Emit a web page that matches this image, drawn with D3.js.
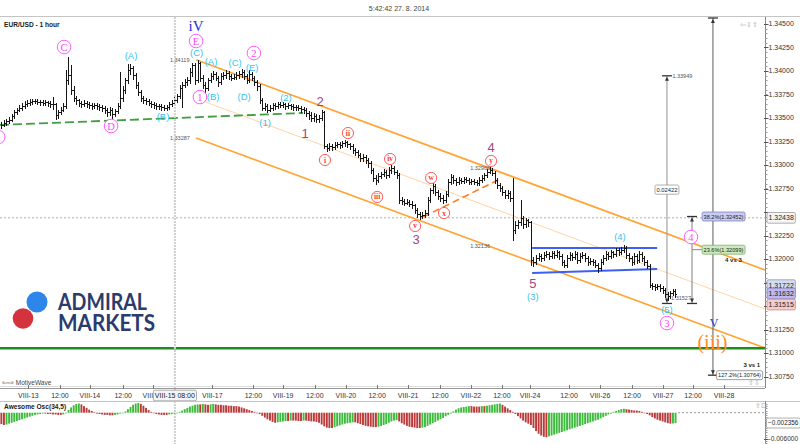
<!DOCTYPE html>
<html><head><meta charset="utf-8">
<script src="https://cdn.jsdelivr.net/npm/d3@7/dist/d3.min.js"></script>
<style>
html,body{margin:0;padding:0;background:#fff;}
svg{display:block;font-family:"Liberation Sans",Arial,sans-serif;}
</style></head><body>
<svg id="chart" width="800" height="444"></svg>
<script>
// ---------------- DATA ----------------
const titleText = "5:42:42 27. 8. 2014";
const symbolText = "EUR/USD - 1 hour";

const close = [1.3343,1.3345,1.3347,1.3348,1.3352,1.3356,1.3359,1.3361,1.3363,1.3365,
1.3366,1.3367,1.3368,1.3368,1.3367,1.3367,1.3366,1.3367,1.3366,1.3365,
1.3365,1.3353,1.3356,1.3359,1.3363,1.3390,1.3396,1.3380,1.3371,1.3369,
1.3366,1.3365,1.3366,1.3365,1.3364,1.3363,1.3364,1.3363,1.3362,1.3361,
1.3359,1.3356,1.3359,1.3354,1.3357,1.3363,1.3371,1.3380,1.3390,1.3401,
1.3403,1.3396,1.3385,1.3378,1.3371,1.3369,1.3368,1.3366,1.3365,1.3364,
1.3363,1.3363,1.3362,1.3361,1.3362,1.3365,1.3366,1.3369,1.3373,1.3382,
1.3385,1.3388,1.3390,1.3399,1.3406,1.3390,1.3408,1.3393,1.3385,1.3382,
1.3390,1.3395,1.3397,1.3393,1.3388,1.3395,1.3396,1.3398,1.3395,1.3393,
1.3394,1.3396,1.3397,1.3399,1.3395,1.3390,1.3397,1.3393,1.3388,1.3384,
1.3369,1.3361,1.3363,1.3359,1.3361,1.3364,1.3363,1.3365,1.3364,1.3365,
1.3363,1.3364,1.3363,1.3362,1.3362,1.3361,1.3360,1.3359,1.3355,1.3353,
1.3350,1.3352,1.3349,1.3350,1.3356,1.3320,1.3318,1.3320,1.3319,1.3321,
1.3322,1.3321,1.3323,1.3324,1.3322,1.3320,1.3316,1.3314,1.3311,1.3307,
1.3309,1.3305,1.3302,1.3295,1.3286,1.3284,1.3288,1.3290,1.3293,1.3289,
1.3295,1.3297,1.3293,1.3289,1.3263,1.3262,1.3260,1.3261,1.3259,1.3257,
1.3252,1.3248,1.3246,1.3247,1.3249,1.3263,1.3273,1.3278,1.3271,1.3267,
1.3265,1.3263,1.3269,1.3282,1.3287,1.3284,1.3282,1.3284,1.3283,1.3285,
1.3284,1.3282,1.3283,1.3282,1.3281,1.3284,1.3286,1.3289,1.3293,1.3295,
1.3292,1.3284,1.3279,1.3276,1.3271,1.3268,1.3270,1.3265,1.3231,1.3236,
1.3239,1.3244,1.3237,1.3241,1.3239,1.3199,1.3197,1.3201,1.3203,1.3201,
1.3204,1.3205,1.3203,1.3206,1.3204,1.3207,1.3203,1.3197,1.3194,1.3201,
1.3204,1.3202,1.3205,1.3199,1.3203,1.3204,1.3201,1.3197,1.3198,1.3197,
1.3194,1.3190,1.3197,1.3201,1.3205,1.3203,1.3207,1.3205,1.3210,1.3207,
1.3210,1.3212,1.3204,1.3201,1.3197,1.3203,1.3199,1.3205,1.3201,1.3197,
1.3193,1.3172,1.3171,1.3170,1.3171,1.3169,1.3167,1.3163,1.3161,1.3164,
1.3166,1.3163];

const high = [1.3346,1.3348,1.3349,1.3351,1.3354,1.3358,1.3361,1.3364,1.3366,1.3368,
1.3369,1.3370,1.3370,1.3370,1.3370,1.3369,1.3369,1.3369,1.3368,1.3368,
1.3372,1.3366,1.3358,1.3362,1.3366,1.3401,1.3415,1.3406,1.3384,1.3373,
1.3370,1.3368,1.3369,1.3368,1.3367,1.3366,1.3366,1.3366,1.3365,1.3364,
1.3363,1.3361,1.3362,1.3361,1.3360,1.3366,1.3399,1.3384,1.3393,1.3407,
1.3407,1.3405,1.3398,1.3388,1.3380,1.3373,1.3371,1.3370,1.3368,1.3367,
1.3366,1.3365,1.3365,1.3364,1.3364,1.3367,1.3369,1.3372,1.3376,1.3385,
1.3388,1.3392,1.3394,1.3403,1.3409,1.3408,1.3412,1.3410,1.3396,1.3388,
1.3393,1.3398,1.3400,1.3399,1.3395,1.3398,1.3399,1.3401,1.3400,1.3397,
1.3397,1.3399,1.3400,1.3402,1.3401,1.3397,1.3401,1.3399,1.3395,1.3390,
1.3386,1.3371,1.3366,1.3365,1.3364,1.3366,1.3366,1.3367,1.3367,1.3367,
1.3366,1.3366,1.3365,1.3365,1.3364,1.3364,1.3363,1.3362,1.3361,1.3357,
1.3356,1.3355,1.3354,1.3353,1.3359,1.3357,1.3322,1.3323,1.3322,1.3324,
1.3325,1.3324,1.3326,1.3327,1.3326,1.3323,1.3322,1.3318,1.3316,1.3313,
1.3312,1.3311,1.3307,1.3304,1.3297,1.3289,1.3291,1.3293,1.3296,1.3295,
1.3298,1.3300,1.3299,1.3295,1.3291,1.3266,1.3264,1.3264,1.3263,1.3262,
1.3259,1.3254,1.3250,1.3250,1.3252,1.3266,1.3276,1.3281,1.3280,1.3273,
1.3270,1.3268,1.3272,1.3285,1.3290,1.3289,1.3286,1.3287,1.3286,1.3287,
1.3287,1.3286,1.3285,1.3285,1.3284,1.3287,1.3289,1.3292,1.3296,1.3298,
1.3297,1.3294,1.3286,1.3281,1.3278,1.3273,1.3273,1.3272,1.3286,1.3240,
1.3242,1.3263,1.3246,1.3244,1.3243,1.3240,1.3202,1.3204,1.3206,1.3205,
1.3207,1.3208,1.3207,1.3209,1.3208,1.3210,1.3209,1.3205,1.3199,1.3204,
1.3207,1.3206,1.3208,1.3207,1.3206,1.3207,1.3206,1.3203,1.3201,1.3200,
1.3199,1.3196,1.3200,1.3204,1.3208,1.3207,1.3210,1.3209,1.3212,1.3212,
1.3213,1.3215,1.3214,1.3206,1.3203,1.3206,1.3205,1.3208,1.3207,1.3203,
1.3199,1.3195,1.3174,1.3173,1.3173,1.3173,1.3171,1.3169,1.3165,1.3166,
1.3168,1.3168];

const low = [1.3339,1.3341,1.3343,1.3345,1.3347,1.3350,1.3354,1.3357,1.3359,1.3361,
1.3363,1.3364,1.3365,1.3366,1.3365,1.3364,1.3364,1.3364,1.3363,1.3362,
1.3360,1.3349,1.3350,1.3354,1.3357,1.3361,1.3386,1.3376,1.3368,1.3365,
1.3363,1.3362,1.3363,1.3362,1.3361,1.3360,1.3361,1.3360,1.3359,1.3357,
1.3355,1.3352,1.3353,1.3350,1.3352,1.3355,1.3361,1.3368,1.3377,1.3387,
1.3397,1.3392,1.3382,1.3375,1.3368,1.3366,1.3365,1.3364,1.3362,1.3361,
1.3360,1.3360,1.3359,1.3358,1.3359,1.3360,1.3363,1.3364,1.3367,1.3371,
1.3362,1.3383,1.3385,1.3387,1.3395,1.3386,1.3388,1.3389,1.3382,1.3378,
1.3380,1.3388,1.3392,1.3390,1.3384,1.3386,1.3392,1.3393,1.3392,1.3390,
1.3391,1.3392,1.3393,1.3394,1.3392,1.3387,1.3388,1.3390,1.3385,1.3380,
1.3366,1.3358,1.3358,1.3356,1.3357,1.3359,1.3360,1.3361,1.3362,1.3362,
1.3360,1.3361,1.3360,1.3359,1.3359,1.3358,1.3356,1.3355,1.3352,1.3349,
1.3347,1.3347,1.3346,1.3346,1.3348,1.3318,1.3315,1.3316,1.3316,1.3317,
1.3319,1.3318,1.3319,1.3320,1.3319,1.3317,1.3313,1.3311,1.3308,1.3304,
1.3304,1.3302,1.3298,1.3292,1.3283,1.3280,1.3282,1.3286,1.3288,1.3286,
1.3287,1.3292,1.3290,1.3286,1.3260,1.3259,1.3257,1.3258,1.3256,1.3254,
1.3249,1.3245,1.3243,1.3244,1.3245,1.3247,1.3261,1.3270,1.3268,1.3264,
1.3262,1.3260,1.3261,1.3267,1.3280,1.3281,1.3279,1.3280,1.3281,1.3281,
1.3282,1.3280,1.3280,1.3280,1.3279,1.3279,1.3282,1.3284,1.3287,1.3291,
1.3289,1.3281,1.3276,1.3272,1.3268,1.3265,1.3265,1.3262,1.3220,1.3228,
1.3233,1.3236,1.3233,1.3234,1.3235,1.3194,1.3193,1.3195,1.3199,1.3198,
1.3199,1.3202,1.3200,1.3201,1.3201,1.3202,1.3200,1.3194,1.3191,1.3192,
1.3199,1.3199,1.3200,1.3196,1.3197,1.3201,1.3198,1.3194,1.3195,1.3194,
1.3191,1.3186,1.3188,1.3195,1.3199,1.3200,1.3201,1.3202,1.3203,1.3204,
1.3205,1.3207,1.3201,1.3198,1.3194,1.3195,1.3196,1.3197,1.3198,1.3194,
1.3190,1.3170,1.3168,1.3167,1.3168,1.3166,1.3164,1.3160,1.3156,1.3159,
1.3162,1.3160];

const awesomeOsc = [-0.0026,-0.0028,-0.0027,-0.0025,-0.0023,-0.0021,-0.0019,-0.0017,-0.0015,-0.0013,
-0.0011,-0.0009,-0.0007,-0.0005,-0.0004,-0.0003,-0.0002,-0.0002,-0.0003,-0.0003,
-0.0004,-0.0004,-0.0005,-0.0005,-0.0004,0.0000,0.0006,0.0012,0.0017,0.0020,
0.0021,0.0019,0.0015,0.0011,0.0007,0.0004,0.0001,-0.0002,-0.0003,-0.0004,
-0.0005,-0.0005,-0.0006,-0.0006,-0.0005,-0.0004,-0.0002,0.0000,0.0003,0.0008,
0.0013,0.0018,0.0021,0.0022,0.0020,0.0016,0.0011,0.0006,0.0002,-0.0001,
-0.0003,-0.0004,-0.0005,-0.0005,-0.0005,-0.0004,-0.0003,-0.0002,0.0000,0.0002,
0.0005,0.0008,0.0011,0.0014,0.0016,0.0018,0.0019,0.0019,0.0020,0.0019,
0.0018,0.0019,0.0020,0.0019,0.0018,0.0018,0.0017,0.0017,0.0016,0.0016,
0.0015,0.0015,0.0014,0.0012,0.0010,0.0008,0.0006,0.0004,0.0002,0.0000,
-0.0003,-0.0007,-0.0011,-0.0015,-0.0018,-0.0021,-0.0023,-0.0022,-0.0021,-0.0020,
-0.0019,-0.0019,-0.0018,-0.0018,-0.0018,-0.0019,-0.0019,-0.0018,-0.0018,-0.0019,
-0.0020,-0.0020,-0.0021,-0.0023,-0.0027,-0.0031,-0.0034,-0.0035,-0.0035,-0.0033,
-0.0031,-0.0029,-0.0027,-0.0025,-0.0024,-0.0023,-0.0022,-0.0022,-0.0024,-0.0026,
-0.0028,-0.0030,-0.0031,-0.0032,-0.0033,-0.0033,-0.0032,-0.0030,-0.0028,-0.0026,
-0.0023,-0.0020,-0.0018,-0.0017,-0.0020,-0.0024,-0.0027,-0.0030,-0.0032,-0.0033,
-0.0034,-0.0035,-0.0035,-0.0034,-0.0033,-0.0030,-0.0027,-0.0024,-0.0021,-0.0018,
-0.0015,-0.0012,-0.0008,-0.0005,-0.0002,0.0003,0.0007,0.0010,0.0012,0.0013,
0.0014,0.0015,0.0015,0.0014,0.0014,0.0014,0.0015,0.0015,0.0016,0.0017,
0.0018,0.0019,0.0020,0.0021,0.0018,0.0014,0.0010,0.0006,0.0002,-0.0003,
-0.0008,-0.0013,-0.0018,-0.0022,-0.0025,-0.0028,-0.0035,-0.0042,-0.0048,-0.0052,
-0.0055,-0.0056,-0.0054,-0.0052,-0.0050,-0.0048,-0.0046,-0.0044,-0.0042,-0.0040,
-0.0038,-0.0036,-0.0034,-0.0032,-0.0030,-0.0028,-0.0026,-0.0024,-0.0022,-0.0020,
-0.0018,-0.0016,-0.0013,-0.0010,-0.0007,-0.0004,-0.0002,0.0002,0.0004,0.0006,
0.0008,0.0009,0.0008,0.0007,0.0006,0.0005,0.0005,0.0004,0.0002,0.0000,
-0.0003,-0.0006,-0.0010,-0.0013,-0.0016,-0.0018,-0.0020,-0.0022,-0.0024,-0.0025,
-0.00245,-0.002356];

// time axis (bar index positions) and labels
const timeTickBars = [10.5,22.7,34.3,47.2,58.7,81.7,97.6,109.1,121.4,133.4,145.5,157.5,169.8,181.8,193.8,204.7,219.8,231.8,244.2,256.2,267.8,279.8];
const timeTickLabels = ["VIII-13","12:00","VIII-14","12:00","VIII-15","VIII-17","12:00","VIII-19","12:00","VIII-20","12:00","VIII-21","12:00","VIII-22","12:00","VIII-24","12:00","VIII-26","12:00","VIII-27","12:00","VIII-28"];
const crossBar = 67.2, crossLabel = "VIII-15 08:00", crossPrice = 1.32438;

const priceTicks = [1.345,1.3425,1.34,1.3375,1.335,1.3325,1.33,1.3275,1.325,1.3225,1.32,1.3175,1.315,1.3125,1.31,1.3075];
const priceTickLabels = ["1.34500","1.34250","1.34000","1.33750","1.33500","1.33250","1.33000","1.32750","1.32500","1.32250","1.32000","1.31750","1.31500","1.31250","1.31000","1.30750"];

// right-axis marker boxes: [price, label, fill, stroke]
const axisMarkers = [[1.32438,"1.32438","#f6f6f6","#9a9a9a"],[1.31722,"1.31722","#d3dcef","#8c9bb8"],[1.31632,"1.31632","#bdb9ec","#8480c0"],[1.31515,"1.31515","#f4cdd0","#c98a90"]];

// trend lines: [bar1, price1, bar2, price2]
const channelUpper = [75.4,1.34119,295.7,1.31883];
const channelMid   = [78.9,1.33672,295.7,1.31468];
const channelLower = [75.4,1.33287,295.7,1.31053];
const greenDashed  = [-0.5,1.33426,116.8,1.33553];
const orangeDashed = [163.3,1.32447,192.3,1.32840];
const blueUpper    = [205.5,1.32117,253.9,1.32117];
const blueLower    = [205.5,1.31851,253.9,1.31894];
const supportLevel = 1.3105;

// measurement tools: [bar, fromPrice, toPrice]
const measures = [[257.7,1.33949,1.31527],[267.4,1.32452,1.31527],[275.5,1.34564,1.30764]];
const measureDiff = "0.02422";
const fibBoxes = [[271.3,1.32452,"38.2%(1.32452)","#c9cbf0","#7c80c4"],[271.3,1.32099,"23.6%(1.32099)","#cbeabd","#80b070"],[276.9,1.30764,"127.2%(1.30764)","#ffffff","#888888"]];
const smallPriceLabels = [["1.34119",65.3,1.34119],["1.33287",65.3,1.33287],["1.32966",181.5,1.32966],["1.32136",181.5,1.32136],["1.33949",259.8,1.33949],["1.31527",259.3,1.31580]];
const noteLabels = [["4 vs 3",280.2,1.31990],["3 vs 1",287.3,1.30870]];

// wave labels: [text, bar, price]
const cyanLabels = [["(A)",50.2,1.34160],["(C)",75.6,1.34195],["(A)",81.2,1.34100],["(C)",90.5,1.34090],["(E)",97.1,1.34032],["(B)",62.6,1.33511],["(B)",82.0,1.33723],["(D)",94.0,1.33723],["(1)",102.1,1.33447],["(2)",110.2,1.33713],["(4)",239.5,1.32234],["(3)",205.8,1.31596],["(5)",257.7,1.31457]];
const magentaCircles = [["a",-1.2,1.33298],["C",24.3,1.34255],["D",42.5,1.33415],["E",75.4,1.34319],["1",76.9,1.33723],["2",97.8,1.34191],["4",267.0,1.32234],["3",257.7,1.31319]];
const purpleDigits = [["1",117.6,1.33340],["2",123.4,1.33681],["3",160.6,1.32213],["4",189.6,1.33191],["5",205.8,1.31745]];
const redCircles = [["i",125.3,1.33053],["ii",134.2,1.33340],["iii",145.5,1.32660],["iv",150.5,1.33064],["v",160.2,1.32351],["w",166.4,1.32862],["x",171.4,1.32489],["y",189.6,1.33043]];
const bigLabels = [["iV",75.4,1.34480,"#2233d6",15],["V",275.9,1.31319,"#2233d6",12],["(iii)",275.3,1.31117,"#ff8c1f",20]];
const logoLines = ["ADMIRAL","MARKETS"];

const oscTitle = "Awesome Osc(34,5)";
const oscTicks = [-0.006];
const oscTickLabels = ["-0.006000"];

// ---------------- DRAW ----------------
const svg = d3.select("#chart");
const x = d3.scaleLinear().domain([0,296]).range([1.3,765.9]);
const y = d3.scaleLinear().domain([1.3075,1.345]).range([376.5,24]);
const yo = d3.scaleLinear().domain([-0.006,0]).range([439,412.7]);
const AX = 765;
const P_TOP = 17, P_BOT = 388, O_TOP = 401, O_BOT = 444;

const defs = svg.append("defs");
defs.append("clipPath").attr("id","pclip").append("rect").attr("x",0).attr("y",P_TOP).attr("width",AX).attr("height",P_BOT-P_TOP);
defs.append("clipPath").attr("id","oclip").append("rect").attr("x",0).attr("y",O_TOP).attr("width",AX).attr("height",O_BOT-O_TOP);

svg.append("text").attr("x",399).attr("y",10.5).attr("text-anchor","middle").attr("font-size",7).attr("fill","#444").text(titleText);
svg.append("line").attr("x1",0).attr("x2",800).attr("y1",P_TOP-0.5).attr("y2",P_TOP-0.5).attr("stroke","#c4c4c4");

const plot = svg.append("g").attr("clip-path","url(#pclip)");

// crosshair
svg.append("line").attr("x1",x(crossBar)).attr("x2",x(crossBar)).attr("y1",P_TOP).attr("y2",O_BOT)
  .attr("stroke","#cfcfcf").attr("stroke-width",2).attr("stroke-dasharray","2,1");
plot.append("line").attr("x1",0).attr("x2",AX).attr("y1",y(crossPrice)).attr("y2",y(crossPrice))
  .attr("stroke","#b0b0b0").attr("stroke-dasharray","2,2");

function seg(g, d, stroke, w, dash){
  const l = g.append("line").attr("x1",x(d[0])).attr("y1",y(d[1])).attr("x2",x(d[2])).attr("y2",y(d[3]))
   .attr("stroke",stroke).attr("stroke-width",w);
  if(dash) l.attr("stroke-dasharray",dash);
  return l;
}
seg(plot, channelMid, "#ffd4a8", 1);
seg(plot, channelUpper, "#ffa535", 1.7);
seg(plot, channelLower, "#ffa535", 1.7);
seg(plot, greenDashed, "#3f9e3f", 1.8, "9,4");
seg(plot, orangeDashed, "#ff7c1f", 1.6, "7,4");
plot.append("line").attr("x1",0).attr("x2",AX).attr("y1",y(supportLevel)).attr("y2",y(supportLevel))
  .attr("stroke","#1d8c1d").attr("stroke-width",2.6);

// measurement verticals
const mColors = ["#9a9a9a","#8a8a8a","#6a6a6a"];
measures.forEach((m,i)=>{
  const cx = x(m[0]);
  plot.append("line").attr("x1",cx).attr("x2",cx).attr("y1",y(m[1])).attr("y2",y(m[2])).attr("stroke",mColors[i]).attr("stroke-width",1.1);
  [m[1],m[2]].forEach((p,k)=>{
    const yy = y(p);
    plot.append("line").attr("x1",cx-5).attr("x2",cx+5).attr("y1",yy).attr("y2",yy).attr("stroke","#333").attr("stroke-width",1.3);
    const dir = k===0 ? 1 : -1;
    plot.append("path").attr("d",`M${cx},${yy+dir*1}L${cx-2},${yy+dir*5}L${cx+2},${yy+dir*5}Z`).attr("fill","#333");
  });
});
plot.append("line").attr("x1",x(measures[1][0])).attr("x2",x(fibBoxes[1][0])).attr("y1",y(fibBoxes[1][1])).attr("y2",y(fibBoxes[1][1])).attr("stroke","#888");

seg(plot, blueUpper, "#3d5ff5", 2);
seg(plot, blueLower, "#3d5ff5", 2);

// OHLC bars
const n = Math.min(close.length, high.length, low.length);
const bars = plot.append("g").attr("stroke","#161616").attr("shape-rendering","crispEdges");
for(let i=0;i<n;i++){
  const cx = Math.round(x(i))+0.5;
  bars.append("line").attr("x1",cx).attr("x2",cx).attr("y1",y(high[i])).attr("y2",y(low[i])+1);
  if(i>0) bars.append("line").attr("x1",cx-1.5).attr("x2",cx).attr("y1",Math.round(y(close[i-1]))+0.5).attr("y2",Math.round(y(close[i-1]))+0.5);
  bars.append("line").attr("x1",cx).attr("x2",cx+1.5).attr("y1",Math.round(y(close[i]))+0.5).attr("y2",Math.round(y(close[i]))+0.5);
}

plot.selectAll("text.sp").data(smallPriceLabels).join("text").attr("class","sp")
  .attr("x",d=>x(d[1])).attr("y",d=>y(d[2])).attr("dy","0.35em").attr("font-size",5.5).attr("fill","#555").text(d=>d[0]);

function boxText(g, tx, ty, txt, fs, fill, stroke, anchor){
  const t = g.append("text").attr("x",tx).attr("y",ty).attr("dy","0.36em").attr("font-size",fs).attr("fill","#222")
    .attr("text-anchor",anchor||"start").text(txt);
  const b = t.node().getBBox();
  g.insert("rect",()=>t.node()).attr("x",b.x-1.5).attr("y",ty-fs*0.62-1).attr("width",b.width+3).attr("height",fs*1.24+2)
    .attr("rx",1.5).attr("fill",fill).attr("stroke",stroke).attr("stroke-width",0.8);
  return t;
}
const ann = svg.append("g");
boxText(ann, x(measures[0][0]), y((measures[0][1]+measures[0][2])/2), measureDiff, 5.8, "#ffffff", "#999", "middle");
fibBoxes.forEach(f=> boxText(ann, x(f[0])+1.5, y(f[1]), f[2], 5.6, f[3], f[4]));
ann.selectAll("text.note").data(noteLabels).join("text").attr("class","note")
  .attr("x",d=>x(d[1])).attr("y",d=>y(d[2])).attr("dy","0.35em").attr("font-size",6).attr("font-weight","bold").attr("fill","#222").text(d=>d[0]);

ann.selectAll("text.cy").data(cyanLabels).join("text").attr("class","cy")
  .attr("x",d=>x(d[1])).attr("y",d=>y(d[2])).attr("dy","0.35em").attr("text-anchor","middle")
  .attr("font-size",9.5).attr("fill","#34c4f0").text(d=>d[0]);
ann.selectAll("text.pd").data(purpleDigits).join("text").attr("class","pd")
  .attr("x",d=>x(d[1])).attr("y",d=>y(d[2])).attr("dy","0.35em").attr("text-anchor","middle")
  .attr("font-size",13).attr("fill","#a4457f").text(d=>d[0]);
const mc = ann.selectAll("g.mc").data(magentaCircles).join("g").attr("class","mc")
  .attr("transform",d=>`translate(${x(d[1])},${y(d[2])})`);
mc.append("circle").attr("r",6.8).attr("fill","#fff").attr("stroke","#ff5cff").attr("stroke-width",1);
mc.append("text").attr("dy","0.36em").attr("text-anchor","middle").attr("font-family","Liberation Serif")
  .attr("font-size",10.5).attr("fill","#ff44ff").text(d=>d[0]);
const rc = ann.selectAll("g.rc").data(redCircles).join("g").attr("class","rc")
  .attr("transform",d=>`translate(${x(d[1])},${y(d[2])})`);
rc.append("circle").attr("r",5.6).attr("fill","#fff").attr("stroke","#ff4a4a").attr("stroke-width",0.9);
rc.append("text").attr("dy","0.33em").attr("text-anchor","middle").attr("font-family","Liberation Serif")
  .attr("font-size",7.5).attr("font-weight","bold").attr("fill","#ff3333").text(d=>d[0]);
ann.selectAll("text.big").data(bigLabels).join("text").attr("class","big")
  .attr("x",d=>x(d[1])).attr("y",d=>y(d[2])).attr("dy","0.35em").attr("text-anchor","middle")
  .attr("font-family","Liberation Serif").attr("font-size",d=>d[4]).attr("fill",d=>d[3]).text(d=>d[0]);

svg.append("text").attr("x",4).attr("y",27).attr("font-size",6.6).attr("font-weight","bold").attr("fill","#222").text(symbolText);

// logo (single text element, two lines)
const logo = svg.append("g");
logo.append("circle").attr("cx",37).attr("cy",302).attr("r",10.5).attr("fill","#2f86ea");
logo.append("circle").attr("cx",23).attr("cy",318.5).attr("r",10.3).attr("fill","#d4323c");
const lt = logo.append("text").attr("font-family","Lato").attr("font-weight",700).attr("font-size",22).attr("fill","#2b3b6c");
lt.append("tspan").attr("x",58).attr("y",310).attr("textLength",89).attr("lengthAdjust","spacingAndGlyphs").text(logoLines[0]);
lt.append("tspan").attr("x",58).attr("y",330.5).attr("textLength",97).attr("lengthAdjust","spacingAndGlyphs").text(logoLines[1]);

svg.append("text").attr("x",2).attr("y",385).attr("font-size",6.5).attr("fill","#444").text("\u21E6\u21E8 MotiveWave");
svg.append("text").attr("x",740).attr("y",27).attr("font-size",7).attr("fill","#aaa").text("\u21E6\u21E9\u21E7");
svg.append("text").attr("x",748).attr("y",385).attr("font-size",7).attr("fill","#aaa").text("\u21E7\u21E9");
svg.append("text").attr("x",755).attr("y",408).attr("font-size",7).attr("fill","#aaa").text("\u21E7\u22A1");

// price right axis
const ra = svg.append("g");
ra.append("line").attr("x1",AX+0.5).attr("x2",AX+0.5).attr("y1",P_TOP).attr("y2",P_BOT).attr("stroke","#888");
d3.range(1.3075,1.3455,0.0005).forEach(p=>{
  ra.append("line").attr("x1",AX).attr("x2",AX+2.5).attr("y1",Math.round(y(p))+0.5).attr("y2",Math.round(y(p))+0.5).attr("stroke","#999");
});
priceTicks.forEach((p,i)=>{
  ra.append("line").attr("x1",AX-1).attr("x2",AX+3.5).attr("y1",Math.round(y(p))+0.5).attr("y2",Math.round(y(p))+0.5).attr("stroke","#555");
  const hidden = axisMarkers.some(m=>Math.abs(y(m[0])-y(p))<7);
  if(!hidden) ra.append("text").attr("x",AX+3.5).attr("y",y(p)).attr("dy","0.35em").attr("font-size",7).attr("fill","#333").text(priceTickLabels[i]);
});
axisMarkers.forEach(m=> boxText(ra, AX+3.5, y(m[0]), m[1], 7, m[2], m[3]));

// x axis
const xa = svg.append("g");
xa.append("line").attr("x1",0).attr("x2",AX).attr("y1",P_BOT+0.5).attr("y2",P_BOT+0.5).attr("stroke","#999");
xa.append("line").attr("x1",0).attr("x2",AX).attr("y1",P_BOT-1.5).attr("y2",P_BOT-1.5).attr("stroke","#ddd");
const crossW = 36;
defs.append("clipPath").attr("id","xclip").append("rect").attr("x",0).attr("y",380).attr("width",x(crossBar)-crossW/2).attr("height",30);
timeTickBars.forEach((b,i)=>{
  xa.append("line").attr("x1",Math.round(x(b))+0.5).attr("x2",Math.round(x(b))+0.5).attr("y1",P_BOT-3).attr("y2",P_BOT+1).attr("stroke","#777");
  const covered = Math.abs(x(b)-x(crossBar)) < crossW;
  const t = xa.append("text").attr("x",x(b)).attr("y",398).attr("text-anchor","middle").attr("font-size",7).attr("fill","#333").text(timeTickLabels[i]);
  if(covered) t.attr("clip-path","url(#xclip)");
});
boxText(xa, x(crossBar), 395.5, crossLabel, 7, "#f4f4f4", "#999", "middle");

// oscillator panel
svg.append("line").attr("x1",0).attr("x2",800).attr("y1",O_TOP+0.5).attr("y2",O_TOP+0.5).attr("stroke","#c4c4c4");
const osc = svg.append("g").attr("clip-path","url(#oclip)");
awesomeOsc.forEach((v,i)=>{
  const up = i===0 ? false : v > awesomeOsc[i-1];
  const y0 = yo(0), y1 = yo(v);
  osc.append("rect").attr("x",x(i)-0.9).attr("width",1.9).attr("y",Math.min(y0,y1)).attr("height",Math.max(0.6,Math.abs(y1-y0)))
    .attr("fill", up ? "#3dbb3d" : "#bb3a3a");
});
osc.append("line").attr("x1",x(awesomeOsc.length)).attr("x2",AX).attr("y1",yo(0)).attr("y2",yo(0)).attr("stroke","#999").attr("stroke-dasharray","2,2");
svg.append("text").attr("x",4).attr("y",409).attr("font-size",6.6).attr("font-weight","bold").attr("fill","#222").text(oscTitle);
const oa = svg.append("g");
oa.append("line").attr("x1",AX+0.5).attr("x2",AX+0.5).attr("y1",O_TOP).attr("y2",O_BOT).attr("stroke","#888");
d3.range(-0.007,0.0025,0.0005).forEach(v=>{
  oa.append("line").attr("x1",AX).attr("x2",AX+2.5).attr("y1",Math.round(yo(v))+0.5).attr("y2",Math.round(yo(v))+0.5).attr("stroke","#999");
});
oscTicks.forEach((v,i)=>{
  oa.append("line").attr("x1",AX-1).attr("x2",AX+3.5).attr("y1",Math.round(yo(v))+0.5).attr("y2",Math.round(yo(v))+0.5).attr("stroke","#555");
  oa.append("text").attr("x",AX+3.5).attr("y",yo(v)).attr("dy","0.35em").attr("font-size",6.6).attr("fill","#333").text(oscTickLabels[i]);
});
const lastAO = awesomeOsc[awesomeOsc.length-1];
boxText(oa, AX+3, yo(lastAO), d3.format(".6f")(lastAO), 6.4, "#ffffff", "#999");
</script>
</body></html>
